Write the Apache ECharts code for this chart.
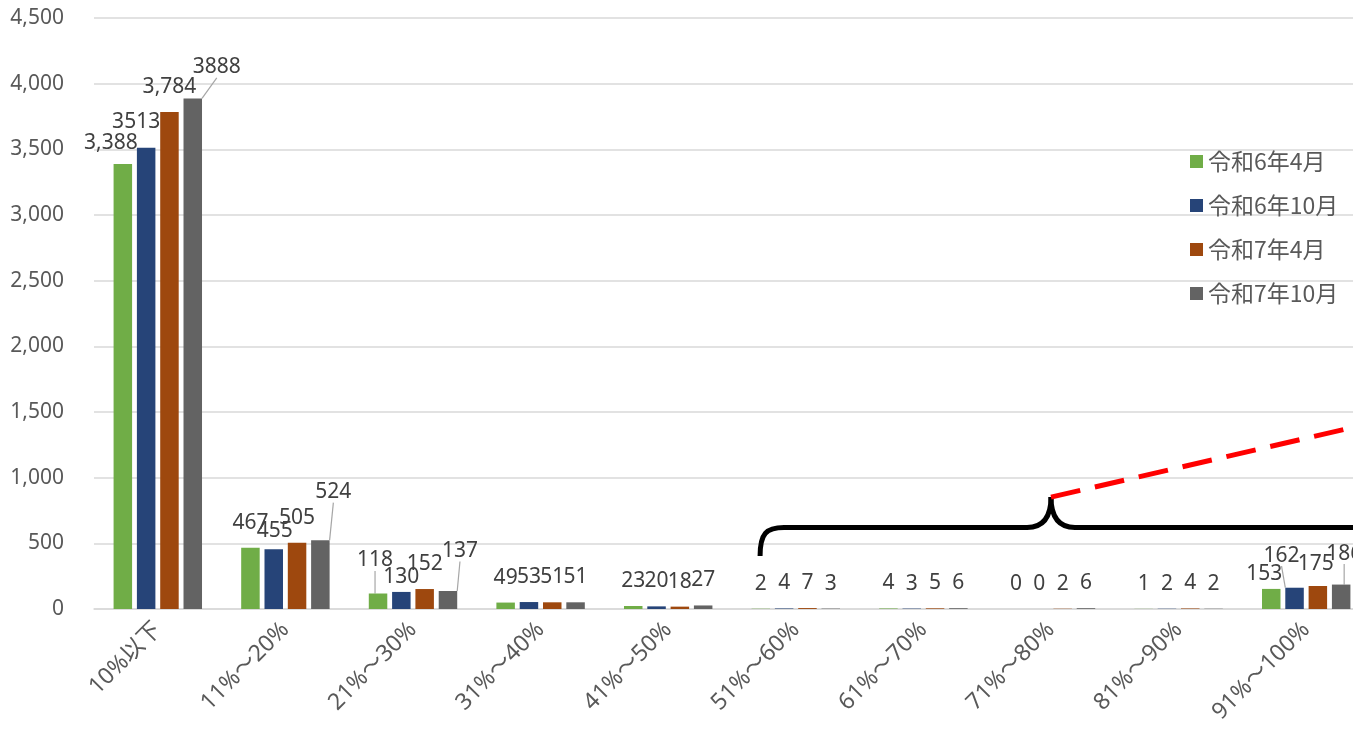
<!DOCTYPE html>
<html>
<head>
<meta charset="utf-8">
<script src="https://cdn.jsdelivr.net/npm/echarts@6/dist/echarts.min.js"></script>
<style>
  html, body { margin: 0; padding: 0; background: #ffffff; overflow: hidden; }
  /* 描画領域は右端が画面外へ少しはみ出す */
  #chart { width: 1370px; height: 734px; }
</style>
</head>
<body>
<div id="chart"></div>
<script>
// 利用率の区分
const categories = ['10%以下', '11%～20%', '21%～30%', '31%～40%', '41%～50%',
                    '51%～60%', '61%～70%', '71%～80%', '81%～90%', '91%～100%'];

// 調査時点ごとの件数
const seriesNames = ['令和6年4月', '令和6年10月', '令和7年4月', '令和7年10月'];
const r6Apr = [3388, 467, 118, 49, 23, 2, 4, 0, 1, 153];
const r6Oct = [3513, 455, 130, 53, 20, 4, 3, 0, 2, 162];
const r7Apr = [3784, 505, 152, 51, 18, 7, 5, 2, 4, 175];
const r7Oct = [3888, 524, 137, 51, 27, 3, 6, 6, 2, 186];
const seriesValues = [r6Apr, r6Oct, r7Apr, r7Oct];
const seriesColors = ['#70AD47', '#264478', '#9E480E', '#636363'];

// 縦軸目盛
const yMin = 0, yMax = 4500, yStep = 500;

// 桁区切りで表示するラベル [系列, 区分]
const commaLabels = [[0, 0], [2, 0]];

// ラベルの位置調整 [系列, 区分, dx, dy]
const labelShifts = [
  [0, 0, -12, 4], [0, 2, -3, -8], [0, 9, -7, 10],
  [1, 0, -10, -1], [1, 1, 1, 7], [1, 2, 0, 10], [1, 9, -13, -7],
  [2, 9, -2, 3],
  [3, 0, 24, -6], [3, 1, 13, -23], [3, 2, 12, -15], [3, 9, 3, -6]
];
// 引き出し線を付けるラベル [系列, 区分]
const leaderLines = [[0, 2], [1, 9], [3, 0], [3, 1], [3, 2], [3, 9]];

// 注記（波括弧と破線）の位置：区分インデックスと値で指定
const braceLeft = { cat: 4.72, low: 403, level: 620 };
const bracePeak = { cat: 7.0, value: 852 };
const braceRightCat = 10.4;
const arrowEnd = { cat: 10.2, value: 1569 };

const textColor = '#595959';
const labelColor = '#404040';
const baseFont = '"Noto Sans", "Noto Sans CJK JP", sans-serif';

const chart = echarts.init(document.getElementById('chart'), null, { renderer: 'canvas' });

function has(list, s, i) {
  return list.some(p => p[0] === s && p[1] === i);
}

const series = seriesValues.map((vals, s) => ({
  name: seriesNames[s],
  type: 'bar',
  barWidth: 18.5,
  barGap: '26%',
  itemStyle: { color: seriesColors[s] },
  data: vals.map((v, i) => has(leaderLines, s, i)
    ? { value: v, labelLine: { show: true, lineStyle: { color: '#a6a6a6', width: 1.2 } } }
    : v),
  label: {
    show: true,
    position: 'top',
    distance: 15,
    color: labelColor,
    fontFamily: baseFont,
    fontSize: 21,
    lineHeight: 20,
    formatter: p => has(commaLabels, p.seriesIndex, p.dataIndex)
      ? p.value.toLocaleString('en-US') : String(p.value)
  },
  labelLine: { show: false },
  labelLayout: p => {
    const sh = labelShifts.find(t => t[0] === p.seriesIndex && t[1] === p.dataIndex);
    return sh ? { dx: sh[2], dy: sh[3] } : {};
  }
}));

chart.setOption({
  animation: false,
  backgroundColor: '#ffffff',
  grid: { left: 94, right: 0, top: 18, bottom: 125, containLabel: false },
  legend: {
    orient: 'vertical',
    left: 1190,
    top: 150,
    padding: 0,
    itemWidth: 13,
    itemHeight: 13,
    itemGap: 21,
    itemTextGap: 6,
    icon: 'rect',
    textStyle: { color: textColor, fontSize: 23, lineHeight: 22, fontFamily: '"Noto Sans CJK JP", sans-serif' },
    data: seriesNames
  },
  xAxis: {
    type: 'category',
    data: categories,
    axisTick: { show: false },
    axisLine: { lineStyle: { color: '#d9d9d9', width: 1.5 } },
    axisLabel: {
      interval: 0,
      rotate: 45,
      margin: 17,
      color: textColor,
      fontSize: 23,
      fontFamily: baseFont
    }
  },
  yAxis: {
    type: 'value',
    min: yMin,
    max: yMax,
    interval: yStep,
    axisLine: { show: false },
    axisTick: { show: false },
    splitLine: { lineStyle: { color: '#d9d9d9', width: 1.5 } },
    axisLabel: {
      margin: 30,
      color: textColor,
      fontSize: 21,
      fontFamily: baseFont,
      formatter: v => v.toLocaleString('en-US')
    }
  },
  series: series
});

// 区分インデックス（小数可）と値から画素座標へ
function toPx(cat, value) {
  const a = chart.convertToPixel({ xAxisIndex: 0, yAxisIndex: 0 }, [0, value]);
  const b = chart.convertToPixel({ xAxisIndex: 0, yAxisIndex: 0 }, [1, value]);
  const step = b[0] - a[0];
  return [a[0] + cat * step, a[1]];
}

const pStart = toPx(braceLeft.cat, braceLeft.low);
const pLevel = toPx(braceLeft.cat, braceLeft.level);
const pPeak = toPx(bracePeak.cat, bracePeak.value);
const pRight = toPx(braceRightCat, braceLeft.level);
const pArrow = toPx(arrowEnd.cat, arrowEnd.value);
const yL = pLevel[1];
const r = 24;

const braceStyle = { fill: null, stroke: '#000000', lineWidth: 5, lineCap: 'butt' };

chart.setOption({
  graphic: [
    // 左端の立ち上がり
    {
      type: 'bezierCurve', z: 100,
      shape: {
        x1: pStart[0], y1: pStart[1],
        cpx1: pStart[0], cpy1: yL + 6,
        cpx2: pStart[0] + 6, cpy2: yL,
        x2: pStart[0] + r, y2: yL
      },
      style: braceStyle
    },
    {
      type: 'line', z: 100,
      shape: { x1: pStart[0] + r - 1, y1: yL, x2: pPeak[0] - r + 1, y2: yL },
      style: braceStyle
    },
    // 中央の山
    {
      type: 'bezierCurve', z: 100,
      shape: {
        x1: pPeak[0] - r, y1: yL,
        cpx1: pPeak[0] - 8, cpy1: yL,
        cpx2: pPeak[0], cpy2: yL - 10,
        x2: pPeak[0], y2: pPeak[1]
      },
      style: braceStyle
    },
    {
      type: 'bezierCurve', z: 100,
      shape: {
        x1: pPeak[0], y1: pPeak[1],
        cpx1: pPeak[0], cpy1: yL - 10,
        cpx2: pPeak[0] + 8, cpy2: yL,
        x2: pPeak[0] + r, y2: yL
      },
      style: braceStyle
    },
    {
      type: 'line', z: 100,
      shape: { x1: pPeak[0] + r - 1, y1: yL, x2: pRight[0], y2: yL },
      style: braceStyle
    },
    // 赤の破線
    {
      type: 'line', z: 101,
      shape: { x1: pPeak[0], y1: pPeak[1], x2: pArrow[0], y2: pArrow[1] },
      style: { stroke: '#ff0000', lineWidth: 5, lineDash: [30, 15] }
    }
  ]
});
</script>
</body>
</html>
